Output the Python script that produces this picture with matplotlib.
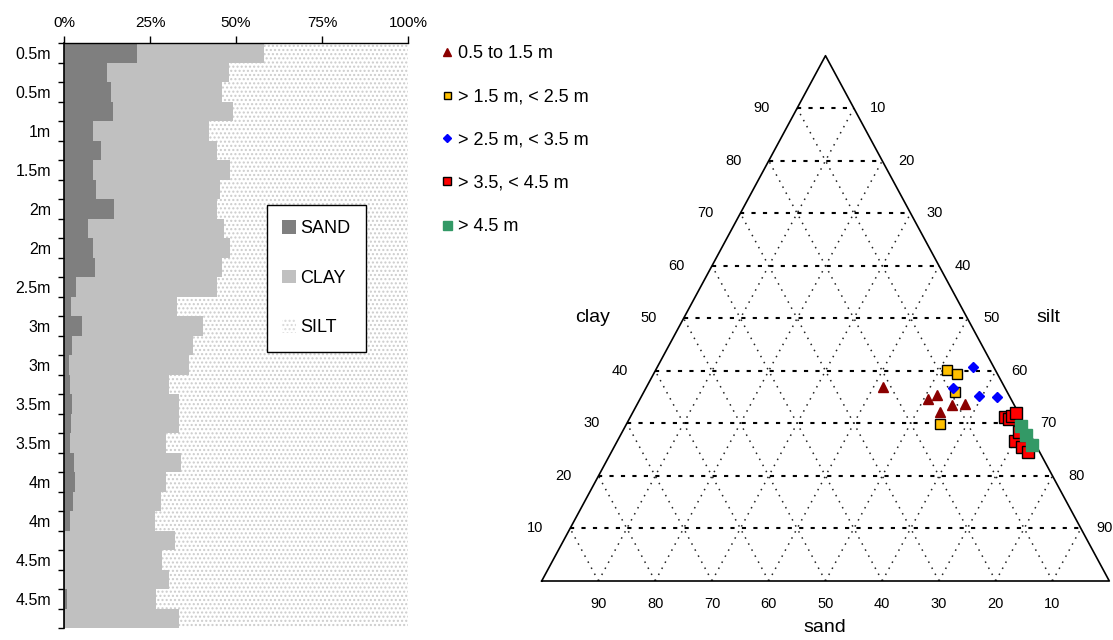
import numpy as np
import matplotlib.pyplot as plt
from matplotlib.patches import Patch
from matplotlib.lines import Line2D

plt.rcParams['font.family'] = ['Liberation Sans', 'DejaVu Sans']

# depth profile, top to bottom (percent)
depth_labels = ['0.5m', '0.5m', '1m', '1.5m', '2m', '2m', '2.5m', '3m',
                '3m', '3.5m', '3.5m', '4m', '4m', '4.5m', '4.5m']
sand = [21.1, 12.4, 13.6, 14.2, 8.3, 10.7, 8.3, 9.3, 14.5, 6.9,
        8.3, 9.0, 3.5, 1.9, 5.2, 2.2, 1.5, 1.7, 2.2, 1.9,
        1.7, 2.9, 3.2, 2.5, 1.7, 0.4, 0.4, 0.4, 0.9, 0.4]
clay = [37.0, 35.5, 32.3, 34.8, 33.9, 33.9, 40.1, 36.0, 30.1, 39.6,
        40.1, 36.8, 41.1, 30.9, 35.3, 35.2, 34.7, 28.8, 31.2, 31.5,
        28.0, 31.1, 26.5, 25.8, 24.8, 31.9, 28.1, 30.1, 25.7, 33.0]

# ternary samples (percent sand / clay, silt = rest)
tern_labels = ['0.5 to 1.5 m', '> 1.5 m, < 2.5 m', '> 2.5 m, < 3.5 m',
               '> 3.5, < 4.5 m', '> 4.5 m']
tern_sand = [[21.5, 14.6, 12.6, 13.7, 10.9, 8.5],
             [8.5, 7.1, 9.2, 14.8],
             [3.6, 9.2, 5.3, 2.3, 1.4],
             [2.7, 2.2, 1.5, 0.4, 3.3, 2.5, 2.0, 1.7],
             [0.7, 0.8, 0.8]]
tern_clay = [[36.9, 34.7, 35.4, 32.2, 33.5, 33.7],
             [40.1, 39.4, 35.9, 29.9],
             [40.8, 36.7, 35.3, 35.0, 29.3],
             [31.2, 30.9, 31.4, 31.9, 26.6, 25.6, 24.6, 28.4],
             [29.6, 27.7, 25.8]]

W, H = 1113, 640
fig = plt.figure(figsize=(W / 100, H / 100), dpi=100)

# ---------- left: stacked profile ----------
ax = fig.add_axes([64 / W, 1 - 628 / H, 344 / W, 585 / H])
sand = np.array(sand)
clay = np.array(clay)
silt = 100 - sand - clay
y = np.arange(len(sand))
c_sand, c_clay = '#7f7f7f', '#c0c0c0'
ax.barh(y, sand, height=1.0, color=c_sand, linewidth=0)
ax.barh(y, clay, left=sand, height=1.0, color=c_clay, linewidth=0)
ax.barh(y, silt, left=sand + clay, height=1.0, color='white',
        edgecolor='#cccccc', hatch='....', linewidth=0)
ax.set_xlim(0, 100)
ax.set_ylim(len(sand) - 0.5, -0.5)
ax.xaxis.tick_top()
ax.set_xticks([0, 25, 50, 75, 100])
ax.set_xticklabels(['0%', '25%', '50%', '75%', '100%'], fontsize=11)
ax.tick_params(axis='x', length=5, width=1, pad=4.5)
ax.set_yticks(np.arange(-0.5, len(sand), 1.0))
ax.set_yticklabels([])
ax.set_yticks(np.arange(0, len(sand), 2), minor=True)
ax.set_yticklabels(depth_labels, minor=True, fontsize=11.5)
ax.tick_params(axis='y', which='major', length=4.5, width=1)
ax.tick_params(axis='y', which='minor', length=0, pad=9.4)
for s in ['right', 'bottom']:
    ax.spines[s].set_visible(False)
ax.spines['top'].set_linewidth(1)
ax.spines['left'].set_linewidth(1.2)

handles = [Patch(facecolor=c_sand, label='SAND'),
           Patch(facecolor=c_clay, label='CLAY'),
           Patch(facecolor='white', edgecolor='#d8d8d8', hatch='....',
                 linewidth=0, label='SILT')]
leg = fig.legend(handles=handles, loc='upper left',
                 bbox_to_anchor=(267 / W, 1 - 205 / H), fontsize=13,
                 frameon=True, fancybox=False, framealpha=1,
                 edgecolor='black', handlelength=0.75, handleheight=0.75,
                 handletextpad=0.25, labelspacing=1.8, borderpad=0.85,
                 borderaxespad=0)
leg.get_frame().set_linewidth(1)

# ---------- right: ternary diagram ----------
tx = fig.add_axes([541.7 / W, 1 - 581 / H, 567.6 / W, 525.3 / H])
tx.set_xlim(0, 1)
tx.set_ylim(0, 1)
tx.axis('off')


def to_xy(sa, cl):
    sa = np.asarray(sa) / 100.0
    cl = np.asarray(cl) / 100.0
    si = 1 - sa - cl
    return si + cl / 2, cl


# grid
for k in range(1, 10):
    f = k / 10
    # constant clay (horizontal)
    tx.plot([f / 2, 1 - f / 2], [f, f], color='black', lw=1.5,
            ls=(0, (2, 3.5)), zorder=1)
    # constant silt
    tx.plot([f, f + (1 - f) / 2], [0, 1 - f], color='#222222', lw=1.1,
            ls=(0, (1, 3.5)), zorder=1)
    # constant sand
    tx.plot([1 - f, (1 - f) / 2], [0, 1 - f], color='#222222', lw=1.1,
            ls=(0, (1, 3.5)), zorder=1)
    # axis numbers
    tx.text(f / 2 - 0.062, f, str(k * 10), ha='center', va='center',
            fontsize=10.5)
    tx.text(1 - f / 2 + 0.042, f, str(100 - k * 10), ha='center',
            va='center', fontsize=10.5)
    tx.text(1 - f, -0.043, str(k * 10), ha='center', va='center',
            fontsize=10.5)

tx.plot([0, 0.5, 1, 0], [0, 1, 0, 0], color='black', lw=1.2, zorder=2,
        clip_on=False)

tx.text(0.089, 0.501, 'clay', ha='center', va='center', fontsize=14)
tx.text(0.892, 0.501, 'silt', ha='center', va='center', fontsize=14)
tx.text(0.499, -0.088, 'sand', ha='center', va='center', fontsize=14)

styles = [dict(marker='^', color='#8b0000', ms=7.5, mec='#8b0000'),
          dict(marker='s', color='#ffc000', ms=7, mec='black', mew=1),
          dict(marker='D', color='#0000ff', ms=5.5, mec='#0000ff'),
          dict(marker='s', color='#ff0000', ms=8, mec='black', mew=1),
          dict(marker='s', color='#339966', ms=9, mec='#339966')]
tern_handles = []
for i in range(len(tern_labels)):
    px, py = to_xy(tern_sand[i], tern_clay[i])
    tx.plot(px, py, ls='none', zorder=3 + i, clip_on=False, **styles[i])
    st = dict(styles[i])
    st['ms'] = st['ms'] * 0.72
    tern_handles.append(Line2D([], [], ls='none', label=tern_labels[i], **st))

fig.legend(handles=tern_handles, loc='upper left',
           bbox_to_anchor=(433 / W, 1 - 38 / H), fontsize=13,
           frameon=False, handlelength=0.8, handletextpad=0.2,
           labelspacing=1.45, borderaxespad=0)

fig.savefig('out.png', dpi=100)
